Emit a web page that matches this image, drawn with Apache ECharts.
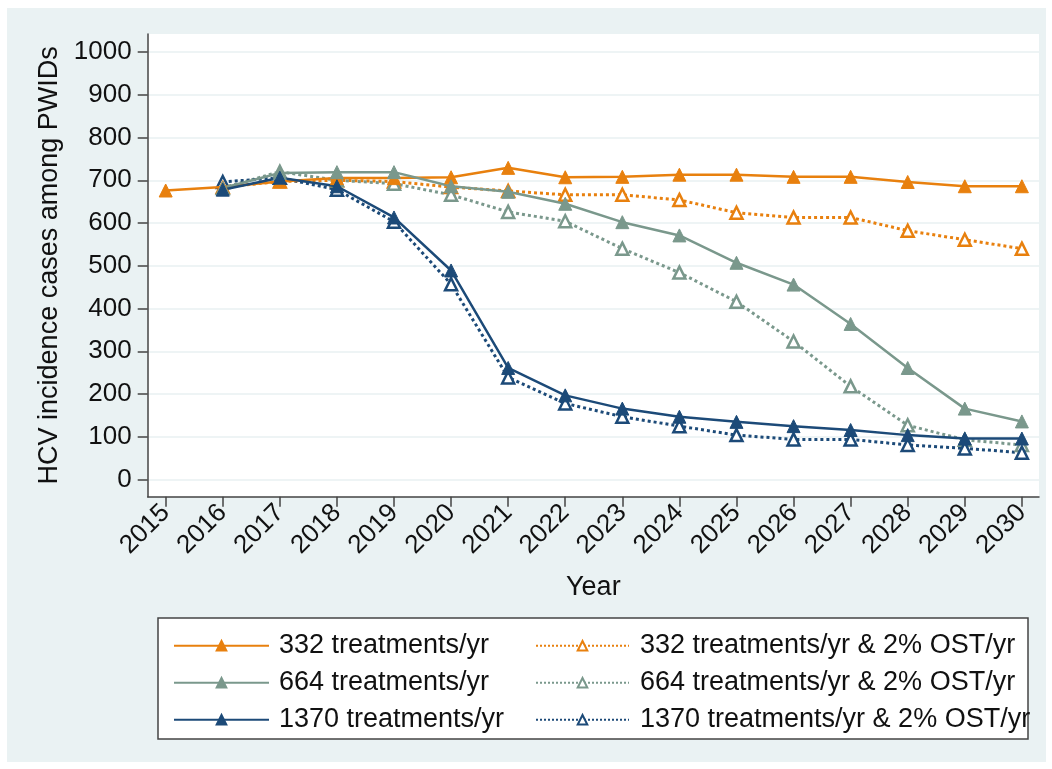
<!DOCTYPE html>
<html>
<head>
<meta charset="utf-8">
<script src="https://cdn.jsdelivr.net/npm/echarts@6/dist/echarts.min.js"></script>
<style>
  html, body { margin: 0; padding: 0; background: #ffffff; }
  #panel { position: absolute; left: 7px; top: 8px; width: 1039px; height: 754px; background: #eaf2f3; }
  #chart { position: absolute; left: 0; top: 0; width: 1052px; height: 769px; }
</style>
</head>
<body>
<div id="panel"></div>
<div id="chart"></div>
<script>
const years = [2015, 2016, 2017, 2018, 2019, 2020, 2021, 2022, 2023, 2024, 2025, 2026, 2027, 2028, 2029, 2030];
const yTicks = [0, 100, 200, 300, 400, 500, 600, 700, 800, 900, 1000];

const t332 = [676, 684, 697, 705, 705, 707, 729, 707, 708, 713, 713, 708, 708, 696, 686, 686];
const t664 = [null, 682, 717, 719, 719, 686, 673, 645, 602, 571, 507, 456, 364, 261, 166, 136];
const t1370 = [null, 678, 706, 686, 613, 489, 261, 197, 166, 147, 135, 125, 116, 104, 96, 96];
const t332ost = [null, 684, 697, 700, 697, 684, 675, 666, 666, 654, 624, 613, 613, 582, 561, 540];
const t664ost = [null, 682, 720, 700, 692, 666, 626, 604, 540, 484, 416, 323, 218, 127, 93, 81];
const t1370ost = [null, 696, 706, 678, 603, 457, 239, 178, 147, 125, 104, 94, 94, 81, 73, 63];

const names = ['332 treatments/yr', '664 treatments/yr', '1370 treatments/yr',
  '332 treatments/yr & 2% OST/yr', '664 treatments/yr & 2% OST/yr', '1370 treatments/yr & 2% OST/yr'];

const ORANGE = '#e8800e', GRAY = '#7a988c', NAVY = '#1c4a78';

function pairs(vals) {
  return years.map((y, i) => [y, vals[i]]).filter(p => p[1] !== null);
}
function solid(name, vals, color) {
  return {
    name, type: 'line', data: pairs(vals), symbol: 'triangle', symbolSize: 13,
    lineStyle: { color, width: 2.5, type: 'solid' },
    itemStyle: { color, borderColor: color, borderWidth: 1 },
    emphasis: { disabled: true }, animation: false, z: 3
  };
}
function dotted(name, vals, color) {
  return {
    name, type: 'line', data: pairs(vals), symbol: 'triangle', symbolSize: 12,
    lineStyle: { color, width: 3, type: 'dotted' },
    itemStyle: { color: '#ffffff', borderColor: color, borderWidth: 2.5 },
    emphasis: { disabled: true }, animation: false, z: 2
  };
}

const chart = echarts.init(document.getElementById('chart'), null, { renderer: 'canvas' });
const font = 'Liberation Sans, Arial, sans-serif';
chart.setOption({
  backgroundColor: 'transparent',
  animation: false,
  textStyle: { fontFamily: font },
  graphic: [{
    type: 'rect', z: 0, silent: true,
    shape: { x: 158, y: 618, width: 870, height: 121 },
    style: { fill: '#ffffff', stroke: '#444444', lineWidth: 1.5 }
  }],
  grid: {
    left: 147.7, top: 34, right: 13, bottom: 272.3,
    show: true, backgroundColor: '#ffffff', borderWidth: 0
  },
  xAxis: {
    type: 'value', min: 2014.685, max: 2030.3,
    name: 'Year', nameLocation: 'middle', nameGap: 77,
    nameTextStyle: { fontSize: 27, color: '#111', fontFamily: font },
    axisLine: { show: true, onZero: false, lineStyle: { color: '#444', width: 1.5 } },
    axisTick: { show: true, length: 10, customValues: years, lineStyle: { color: '#444', width: 1.5 } },
    axisLabel: { customValues: years, rotate: 45, margin: 12, fontSize: 26, color: '#111', fontFamily: font,
      formatter: v => String(v) },
    splitLine: { show: false }
  },
  yAxis: {
    type: 'value', min: -40, max: 1042,
    name: 'HCV incidence cases among PWIDs', nameLocation: 'middle', nameGap: 80, nameRotate: 90,
    nameTextStyle: { fontSize: 27, color: '#111', fontFamily: font },
    axisLine: { show: true, onZero: false, lineStyle: { color: '#444', width: 1.5 } },
    axisTick: { show: true, length: 10, customValues: yTicks, lineStyle: { color: '#444', width: 1.5 } },
    axisLabel: { customValues: yTicks, margin: 16, fontSize: 26, color: '#111', fontFamily: font,
      formatter: v => String(v) },
    splitLine: { show: true, lineStyle: { color: '#e8f0f2', width: 1.5 } }
  },
  legend: [{
    orient: 'vertical', left: 168, top: 627, z: 5,
    data: names.slice(0, 3), itemWidth: 95, itemHeight: 12, itemGap: 9.5,
    selectedMode: false,
    textStyle: { fontSize: 27, color: '#111', fontFamily: font, lineHeight: 27.5, padding: [0, 0, 0, 5] }
  }, {
    orient: 'vertical', left: 530, top: 627, z: 5,
    data: names.slice(3), itemWidth: 93, itemHeight: 12, itemGap: 9.5,
    selectedMode: false,
    textStyle: { fontSize: 27, color: '#111', fontFamily: font, lineHeight: 27.5, padding: [0, 0, 0, 6] }
  }],
  series: [
    solid(names[0], t332, ORANGE),
    solid(names[1], t664, GRAY),
    solid(names[2], t1370, NAVY),
    dotted(names[3], t332ost, ORANGE),
    dotted(names[4], t664ost, GRAY),
    dotted(names[5], t1370ost, NAVY)
  ]
});
</script>
</body>
</html>
